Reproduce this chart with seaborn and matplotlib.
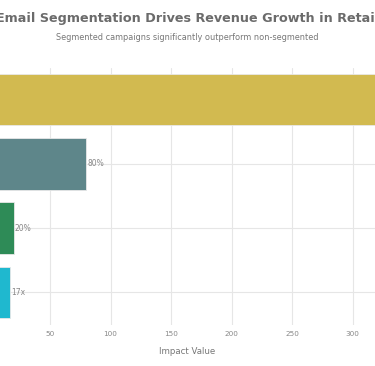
import matplotlib
matplotlib.use("Agg")
import matplotlib.pyplot as plt
import seaborn as sns
import pandas as pd
from matplotlib.ticker import MultipleLocator

categories = ["Revenue increase from segmented campaigns",
              "Revenue from targeted emails",
              "Higher conversion rate",
              "Higher revenue per email"]
values = [760, 80, 20, 17]
value_labels = ["760%", "80%", "20%", "17x"]
colors = ["#D2BA50", "#5E868A", "#2E8B57", "#1FB8CF"]

df = pd.DataFrame({"Metric": categories, "Impact": values})

sns.set_theme(style="white")
plt.rcParams["font.family"] = ["DejaVu Sans"]

fig = plt.figure(figsize=(3.75, 3.66), dpi=100)
px = 1.21  # pixels per data unit
x0 = -10.5
xmax = 840
ax = fig.add_axes([x0 / 375, 1 - 324.5 / 366, xmax * px / 375, 257 / 366])

sns.barplot(data=df, x="Impact", y="Metric", hue="Metric", palette=colors,
            orient="h", legend=False, ax=ax, width=0.8, saturation=1,
            edgecolor="#e8e8e8", linewidth=0.6, zorder=3)

ax.set_xlim(0, xmax)
ax.xaxis.set_major_locator(MultipleLocator(50))
ax.grid(True, color="#e6e6e6", linewidth=0.8, zorder=0)
ax.set_axisbelow(True)
for s in ax.spines.values():
    s.set_visible(False)
ax.tick_params(axis="x", labelsize=5.2, colors="#888888", length=0, pad=5)
ax.tick_params(axis="y", labelsize=5.5, colors="#888888", length=0)
ax.set_ylabel("")
ax.set_xlabel("")

for i, (v, lab) in enumerate(zip(values, value_labels)):
    ax.text(v + 1, i, lab, va="center", ha="left", fontsize=5.5, color="#888888", zorder=4)

fig.text(0.5, 1 - 351 / 366, "Impact Value", ha="center", va="center",
         fontsize=6.2, color="#777777")
fig.text(0.5, 1 - 18.5 / 366, "Email Segmentation Drives Revenue Growth in Retail",
         ha="center", va="center", fontsize=9.2, fontweight="bold", color="#6b6b6b")
fig.text(0.5, 1 - 37 / 366, "Segmented campaigns significantly outperform non-segmented",
         ha="center", va="center", fontsize=5.9, color="#777777")

fig.savefig("out.png", dpi=100)
